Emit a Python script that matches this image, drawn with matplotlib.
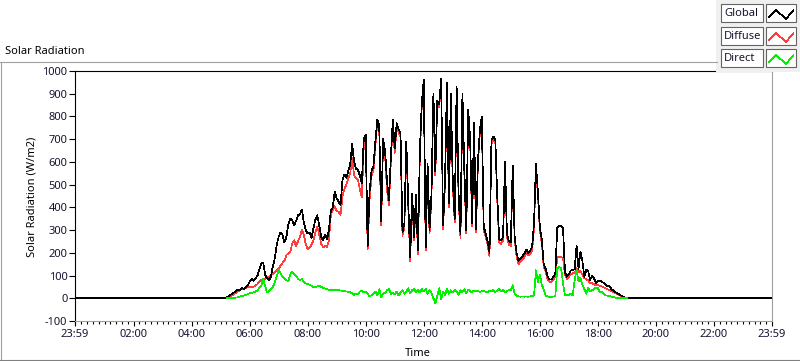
import matplotlib
matplotlib.use("Agg")
import matplotlib.pyplot as plt
import numpy as np
from matplotlib.lines import Line2D
from matplotlib.patches import Rectangle
from matplotlib.ticker import FixedLocator, MultipleLocator

nan = np.nan

# one sample every 4 minutes from 05:00 to 19:00 (W/m2), one row per hour
start_minute = 300
step_minutes = 4

global_wm2 = [
    0, 0, 0, 2, 8, 14, 20, 26, 33, 38, 36, 44, 42, 48, 55,
    72, 85, 76, 88, 98, 125, 150, 158, 105, 88, 78, 95, 140, 175, 235,
    270, 290, 280, 245, 270, 325, 350, 345, 320, 340, 365, 370, 390, 335, 300,
    285, 290, 265, 310, 345, 365, 320, 270, 255, 280, 260, 300, 385, 400, 470,
    440, 425, 410, 520, 545, 530, 560, 590, 680, 600, 570, 565, 540, 505, 700,
    720, 230, 470, 560, 580, 690, 785, 760, 340, 700, 650, 520, 430, 620, 785,
    660, 770, 745, 725, 290, 330, 690, 420, 180, 460, 270, 455, 210, 650, 860,
    960, 225, 590, 300, 460, 900, 560, 870, 855, 965, 320, 520, 950, 420, 900,
    520, 350, 930, 460, 280, 900, 560, 300, 830, 700, 330, 770, 305, 600, 740,
    800, 314, 286, 250, 200, 696, 711, 700, 446, 260, 255, 270, 600, 286, 250,
    245, 585, 270, 200, 165, 175, 185, 195, 215, 200, 210, 225, 330, 590, 470,
    315, 260, 150, 130, 95, 82, 82, 95, 108, 310, 320, 318, 310, 115, 95,
    105, 122, 125, 128, 230, 130, 205, 165, 95, 125, 120, 80, 100, 88, 68,
    75, 78, 72, 68, 58, 52, 55, 40, 34, 28, 22, 17, 12, 8, 3,
    0,
]

diffuse_wm2 = [
    nan, nan, nan, 0, 5, 9, 13, 18, 24, 30, 36, 40, 42, 45, 48,
    50, 50, 50, 55, 62, 72, 80, 86, 85, 90, 94, 100, 108, 115, 123,
    130, 145, 155, 165, 190, 198, 205, 240, 255, 230, 250, 270, 300, 280, 240,
    215, 225, 235, 255, 290, 315, 280, 240, 225, 230, 225, 255, 370, 390, 405,
    385, 380, 366, 450, 480, 500, 530, 550, 620, 540, 530, 520, 480, 446, 667,
    700, 215, 432, 540, 560, 670, 770, 740, 320, 685, 630, 480, 410, 600, 770,
    640, 755, 730, 710, 275, 315, 675, 400, 165, 440, 255, 435, 195, 630, 845,
    945, 210, 570, 285, 440, 885, 540, 855, 840, 950, 305, 500, 935, 400, 885,
    500, 335, 915, 440, 265, 885, 540, 285, 815, 685, 315, 755, 290, 585, 725,
    785, 300, 270, 235, 185, 680, 695, 685, 430, 245, 240, 255, 585, 270, 235,
    230, 570, 255, 185, 150, 160, 170, 180, 198, 188, 195, 208, 310, 575, 455,
    300, 245, 140, 118, 85, 72, 72, 82, 95, 180, 182, 180, 178, 105, 85,
    95, 105, 110, 112, 132, 115, 120, 105, 88, 85, 78, 68, 66, 62, 58,
    57, 55, 52, 48, 44, 40, 35, 31, 27, 23, 18, 14, 10, 6, 2,
    0,
]

direct_wm2 = [
    nan, nan, nan, 0, 0, 0, 1, 2, 3, 5, 8, 10, 12, 15, 18,
    22, 24, 26, 28, 35, 45, 55, 85, 55, 25, 30, 40, 48, 70, 95,
    125, 110, 95, 88, 80, 75, 105, 116, 108, 100, 85, 80, 85, 72, 66,
    62, 60, 55, 50, 48, 52, 56, 50, 45, 43, 40, 38, 36, 38, 36,
    35, 36, 34, 33, 32, 30, 28, 26, 22, 15, 20, 18, 30, 34, 26,
    28, 20, 8, 14, 22, 30, 12, 40, 5, 20, 24, 35, 40, 20, 25,
    18, 30, 12, 25, 35, 20, 30, 44, 22, 35, 40, 28, 36, 25, 40,
    30, 42, 20, 35, 25, 0, -22, 10, 44, -5, 30, 15, 40, 20, 35,
    25, 38, 30, 15, 35, 28, 40, 22, 38, 30, 26, 35, 30, 32, 28,
    30, 34, 28, 25, 35, 30, 36, 28, 34, 40, 30, 38, 26, 32, 35,
    35, 57, 22, 10, 8, 7, 8, 7, 8, 7, 8, 10, 12, 123, 72,
    105, 60, 40, 12, 8, 6, 6, 8, 8, 130, 138, 132, 66, 13, 15,
    15, 20, 12, 80, 125, 75, 90, 60, 40, 20, 45, 30, 36, 40, 48,
    45, 26, 30, 22, 13, 12, 10, 7, 5, 3, 1, 0, 0, 0, 0,
    0,
]

series_names = ["Global", "Diffuse", "Direct"]
series_colors = ["#000000", "#ff3c3c", "#00f000"]

# axis runs from 23:59 of the day before to 23:59
x_min, x_max = -1, 1439
x_ticks_minutes = [-1, 120, 240, 360, 480, 600, 720, 840, 960, 1080, 1200, 1320, 1439]
y_ticks = list(range(-100, 1001, 100))

W, H = 800, 361
text_color = "#141432"
font = "Noto Sans"
fsize = 8
line_w = 0.5

plt.rcParams["font.family"] = [font, "DejaVu Sans"]


def fx(px):
    return px / W


def fy(py):
    return 1 - py / H


fig = plt.figure(figsize=(W / 100, H / 100), dpi=100, facecolor="white")
ax = fig.add_axes([fx(75), fy(321), (771.5 - 75) / W, 250 / H])

minutes = start_minute + step_minutes * np.arange(len(global_wm2))

ax.plot(minutes, diffuse_wm2, color=series_colors[1], lw=line_w,
        antialiased=False, zorder=2)
# global radiation is zero through the night
ax.plot(np.r_[x_min, minutes, x_max], np.r_[0, global_wm2, 0],
        color=series_colors[0], lw=line_w, antialiased=False, zorder=3)
ax.plot(minutes, direct_wm2, color=series_colors[2], lw=line_w,
        antialiased=False, zorder=4)

ax.set_xlim(x_min, x_max)
ax.set_ylim(-100, 1000)
ax.xaxis.set_major_locator(FixedLocator(x_ticks_minutes))
ax.set_xticklabels([f"{(m % 1440) // 60:02d}:{m % 60:02d}" for m in x_ticks_minutes])
ax.xaxis.set_minor_locator(MultipleLocator(12))
ax.set_yticks(y_ticks)
ax.set_yticklabels([str(v) for v in y_ticks])

ax.tick_params(axis="x", which="major", length=3.5, width=0.8, pad=2.5,
               labelsize=fsize, labelcolor=text_color)
ax.tick_params(axis="x", which="minor", length=2, width=0.8)
ax.tick_params(axis="y", which="major", length=4.5, width=0.8, pad=1,
               labelsize=fsize, labelcolor=text_color)

for side in ("left", "top"):
    ax.spines[side].set_color("black")
    ax.spines[side].set_linewidth(0.8)
for side in ("right", "bottom"):
    ax.spines[side].set_color("#a0a0a0")
    ax.spines[side].set_linewidth(0.8)

fig.text(fx(5), fy(51), "Solar Radiation", ha="left", va="center",
         fontsize=fsize, color="black")
fig.text(fx(32), fy(197), "Solar Radiation (W/m2)", ha="center", va="center",
         rotation=90, fontsize=fsize, color="black")
fig.text(fx(418), fy(354), "Time", ha="center", va="center",
         fontsize=fsize, color="black")

# outer frame of the graph
frame = "#a0a0a0"
fig.add_artist(Line2D([fx(0), fx(717)], [fy(61.5), fy(61.5)], color=frame, lw=0.8))
fig.add_artist(Line2D([fx(0.5), fx(0.5)], [fy(61.5), fy(359.5)], color=frame, lw=0.8))
fig.add_artist(Line2D([fx(0), fx(800)], [fy(359.5), fy(359.5)], color="#808080", lw=0.8))

# plot legend, top right
fig.add_artist(Rectangle((fx(716), fy(72)), fx(84), 72 / H, transform=fig.transFigure,
                         facecolor="#f0f0f0", edgecolor="none"))
row_tops = [4, 27, 49]
for name, color, top in zip(series_names, series_colors, row_tops):
    for left, width in ((721, 42), (766, 30)):
        fig.add_artist(Rectangle((fx(left), fy(top + 18)), width / W, 18 / H,
                                 transform=fig.transFigure, facecolor="white",
                                 edgecolor="#646464", lw=0.8))
    fig.text(fx(724), fy(top + 9.5), name, ha="left", va="center",
             fontsize=fsize, color=text_color)
    zx = [768.5, 776, 786, 793.5]
    zy = [top + 13, top + 6, top + 15, top + 6]
    fig.add_artist(Line2D([fx(v) for v in zx], [fy(v) for v in zy], color=color,
                          lw=line_w, antialiased=False))

fig.savefig("out.png", dpi=100, facecolor="white")
